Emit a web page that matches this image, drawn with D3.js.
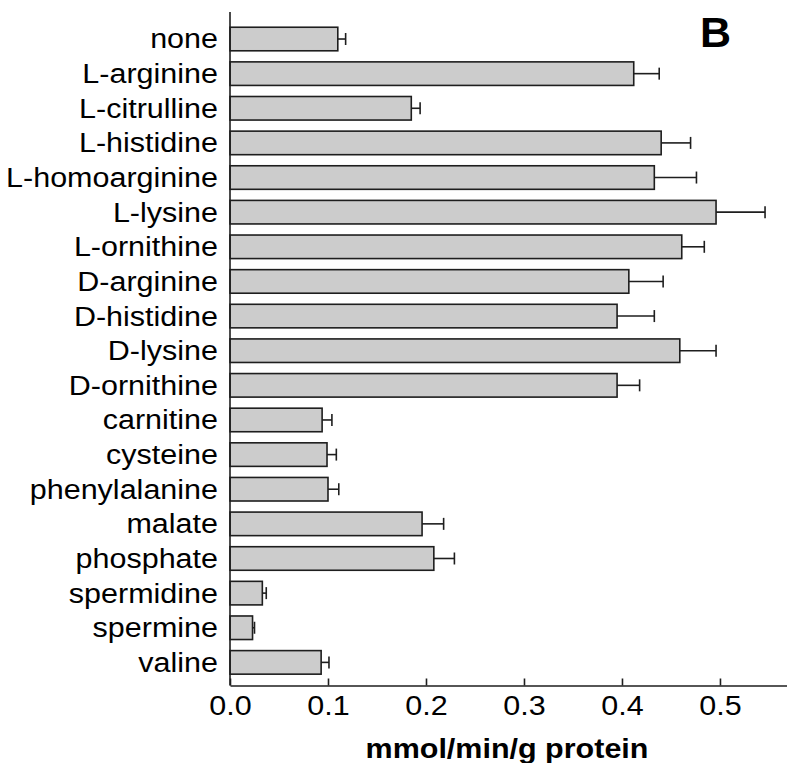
<!DOCTYPE html>
<html>
<head>
<meta charset="utf-8">
<script src="https://cdn.jsdelivr.net/npm/d3@7"></script>
<style>
  body { margin: 0; background: #fff; }
  text { font-family: "Liberation Sans", Arial, Helvetica, sans-serif; fill: #000; }
</style>
</head>
<body>
<div id="chart"></div>
<script>
// Data
var categories = ["none", "L-arginine", "L-citrulline", "L-histidine", "L-homoarginine",
  "L-lysine", "L-ornithine", "D-arginine", "D-histidine", "D-lysine", "D-ornithine",
  "carnitine", "cysteine", "phenylalanine", "malate", "phosphate", "spermidine",
  "spermine", "valine"];
var values = [0.110, 0.412, 0.185, 0.440, 0.433, 0.496, 0.461, 0.407, 0.395, 0.459,
  0.395, 0.094, 0.099, 0.100, 0.196, 0.208, 0.033, 0.023, 0.093];
var errors = [0.008, 0.026, 0.009, 0.030, 0.043, 0.050, 0.023, 0.035, 0.038, 0.037,
  0.023, 0.010, 0.0095, 0.011, 0.022, 0.021, 0.004, 0.002, 0.008];
var xTicks = [0.0, 0.1, 0.2, 0.3, 0.4, 0.5];
var xTitle = "mmol/min/g protein";
var panelLetter = "B";

var data = categories.map(function(c, i) {
  return { name: c, value: values[i], err: errors[i] };
});

var svgWidth = 787;
var svgHeight = 763;
var stretch = 1.13; // text in the figure is a bit wider than normal

var svg = d3.select("#chart")
  .append("svg")
  .attr("width", svgWidth)
  .attr("height", svgHeight);

// scales
var xScale = d3.scaleLinear()
  .domain([0, 0.5684])
  .range([230, 787]);

var yScale = d3.scaleBand()
  .domain(categories)
  .range([21.7, 679.7])
  .paddingInner(0.32)
  .paddingOuter(0.16);

var axisY = 685.5;

// bars
svg.append("g")
  .selectAll("rect")
  .data(data)
  .enter()
  .append("rect")
  .attr("x", xScale(0))
  .attr("y", d => yScale(d.name))
  .attr("width", d => xScale(d.value) - xScale(0))
  .attr("height", yScale.bandwidth())
  .attr("fill", "#cccccc")
  .attr("stroke", "#1e1e1e")
  .attr("stroke-width", 1.6);

// error bars (upper side only)
var errGroup = svg.append("g")
  .attr("stroke", "#1e1e1e")
  .attr("stroke-width", 1.6);

errGroup.selectAll("line.stem")
  .data(data)
  .enter()
  .append("line")
  .attr("class", "stem")
  .attr("x1", d => xScale(d.value))
  .attr("x2", d => xScale(d.value + d.err))
  .attr("y1", d => yScale(d.name) + yScale.bandwidth() / 2)
  .attr("y2", d => yScale(d.name) + yScale.bandwidth() / 2);

errGroup.selectAll("line.cap")
  .data(data)
  .enter()
  .append("line")
  .attr("class", "cap")
  .attr("x1", d => xScale(d.value + d.err))
  .attr("x2", d => xScale(d.value + d.err))
  .attr("y1", d => yScale(d.name) + yScale.bandwidth() / 2 - 6)
  .attr("y2", d => yScale(d.name) + yScale.bandwidth() / 2 + 6);

// x axis, ticks pointing inward
var bottomAxis = d3.axisBottom(xScale)
  .tickValues(xTicks)
  .tickSizeInner(-7)
  .tickSizeOuter(0)
  .tickFormat(d3.format(".1f"));

var xAxis = svg.append("g")
  .attr("transform", `translate(0, ${axisY})`)
  .call(bottomAxis);

xAxis.select(".domain")
  .attr("stroke", "#1e1e1e")
  .attr("stroke-width", 1.6);
xAxis.selectAll(".tick line")
  .attr("stroke", "#1e1e1e")
  .attr("stroke-width", 1.6);
xAxis.selectAll(".tick text")
  .attr("y", 0)
  .attr("dy", 0)
  .attr("transform", `translate(0, 29) scale(${stretch}, 1)`)
  .style("font-size", "27px")
  .style("font-family", "'Liberation Sans', Arial, sans-serif")
  .attr("fill", "#000");

// y axis line, no ticks
svg.append("line")
  .attr("x1", xScale(0))
  .attr("x2", xScale(0))
  .attr("y1", 12)
  .attr("y2", axisY)
  .attr("stroke", "#1e1e1e")
  .attr("stroke-width", 1.6);

// category labels
svg.append("g")
  .selectAll("text")
  .data(categories)
  .enter()
  .append("text")
  .attr("transform", d => `translate(218, ${yScale(d) + yScale.bandwidth() / 2}) scale(${stretch}, 1)`)
  .attr("dy", "0.35em")
  .attr("text-anchor", "end")
  .style("font-size", "27px")
  .text(d => d);

// axis title
svg.append("text")
  .attr("transform", `translate(507, 758) scale(${stretch}, 1)`)
  .attr("text-anchor", "middle")
  .style("font-size", "27px")
  .style("font-weight", "bold")
  .text(xTitle);

// panel letter
svg.append("text")
  .attr("x", 700)
  .attr("y", 46.7)
  .style("font-size", "43px")
  .style("font-weight", "bold")
  .text(panelLetter);
</script>
</body>
</html>
